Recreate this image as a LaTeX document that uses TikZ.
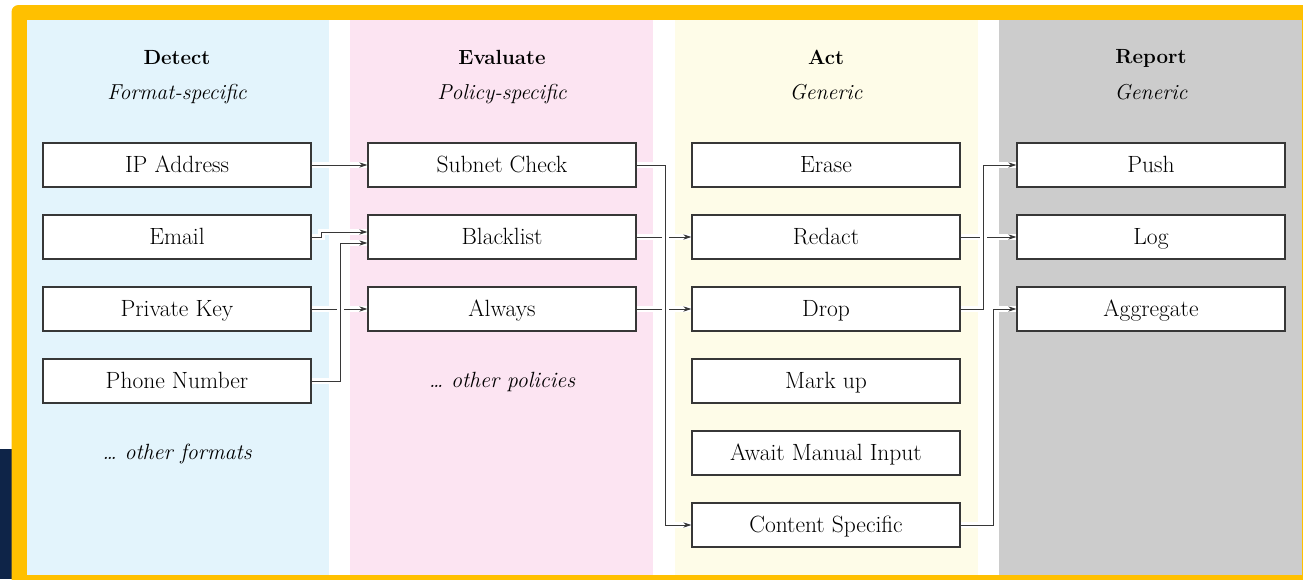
\documentclass[tikz,border=0pt]{standalone}
\usepackage{fontspec}
\usetikzlibrary{arrows.meta}

\definecolor{framegold}{RGB}{255,192,0}
\definecolor{navyband}{RGB}{14,36,72}
\definecolor{detectbg}{RGB}{227,244,252}
\definecolor{evalbg}{RGB}{252,228,242}
\definecolor{actbg}{RGB}{254,252,232}
\definecolor{reportbg}{RGB}{204,204,204}
\definecolor{inkline}{RGB}{55,55,55}

\pgfdeclarelayer{bg}
\pgfdeclarelayer{fg}
\pgfsetlayers{bg,main,fg}

\tikzset{
  stagebox/.style={draw=inkline, fill=white, line width=1.25pt,
    minimum width=268pt, minimum height=44pt, inner sep=0pt,
    text height=19pt, text depth=4pt,
    font=\fontsize{23.5}{28}\selectfont},
  stagetitle/.style={anchor=base, font=\fontsize{20.5}{24}\selectfont\bfseries},
  stagesub/.style={anchor=base, font=\fontsize{21.6}{26}\selectfont\itshape},
  moretext/.style={anchor=base, font=\fontsize{22}{26}\selectfont\itshape},
  conn/.style={draw=inkline, line width=1pt,
    -{Stealth[length=8pt,width=5.2pt]},
    preaction={draw=white, line width=6.5pt, -}},
}

\begin{document}
\begin{tikzpicture}[x=1pt,y=-1pt]
\useasboundingbox (0,0) rectangle (1303,579);

\begin{pgfonlayer}{bg}
  \clip (0,0) rectangle (1303,579);
  % dark band at the lower left
  \fill[navyband] (0,449) rectangle (12,579);
  % gold frame
  \fill[framegold, rounded corners=7pt] (11.5,5) rectangle (1340,600);
  \fill[white] (27,20) rectangle (1302,575);
  % stage columns
  \fill[detectbg] (27,20) rectangle (329,575);
  \fill[evalbg]   (350,20) rectangle (653,575);
  \fill[actbg]    (675,20) rectangle (978,575);
  \fill[reportbg] (999,20) rectangle (1302,575);
\end{pgfonlayer}

\begin{pgfonlayer}{fg}
  % column headings
  \node[stagetitle] (tdetect) at (177,64) {Detect};
  \node[stagesub]   (sdetect) at (177,99.5) {Format-specific};
  \node[stagetitle] (teval) at (502,64) {Evaluate};
  \node[stagesub]   (seval) at (502,99.5) {Policy-specific};
  \node[stagetitle] (tact) at (826,64) {Act};
  \node[stagesub]   (sact) at (826,99.5) {Generic};
  \node[stagetitle] (treport) at (1151,63) {Report};
  \node[stagesub]   (sreport) at (1151,99.5) {Generic};

  % detect
  \node[stagebox] (ip)    at (177,165) {IP Address};
  \node[stagebox] (email) at (177,237) {Email};
  \node[stagebox] (pkey)  at (177,309) {Private Key};
  \node[stagebox] (phone) at (177,381) {Phone Number};
  \node[moretext] (moref) at (177,459) {\dots{} other formats};

  % evaluate
  \node[stagebox] (subnet)    at (502,165) {Subnet Check};
  \node[stagebox] (blacklist) at (502,237) {Blacklist};
  \node[stagebox] (always)    at (502,309) {Always};
  \node[moretext] (morep)     at (502,387) {\dots{} other policies};

  % act
  \node[stagebox] (erase)   at (826,165) {Erase};
  \node[stagebox] (redact)  at (826,237) {Redact};
  \node[stagebox] (drop)    at (826,309) {Drop};
  \node[stagebox] (markup)  at (826,381) {Mark up};
  \node[stagebox] (await)   at (826,453) {Await Manual Input};
  \node[stagebox] (content) at (826,525) {Content Specific};

  % report
  \node[stagebox] (push)      at (1151,165) {Push};
  \node[stagebox] (log)       at (1151,237) {Log};
  \node[stagebox] (aggregate) at (1151,309) {Aggregate};
\end{pgfonlayer}

% connectors, later ones bridge over earlier ones
\draw[conn] (ip.east) -- (subnet.west);
\draw[conn] (email.east) -- ++(10,0) |- ([yshift=5pt]blacklist.west);
\draw[conn] (pkey.east) -- (always.west);
\draw[conn] (phone.east) -- ++(29,0) |- ([yshift=-6pt]blacklist.west);
\draw[conn] (blacklist.east) -- (redact.west);
\draw[conn] (always.east) -- (drop.west);
\draw[conn] (subnet.east) -- ++(29,0) |- (content.west);
\draw[conn] (redact.east) -- (log.west);
\draw[conn] (drop.east) -- ++(23,0) |- (push.west);
\draw[conn] (content.east) -- ++(33,0) |- (aggregate.west);
\end{tikzpicture}
\end{document}
